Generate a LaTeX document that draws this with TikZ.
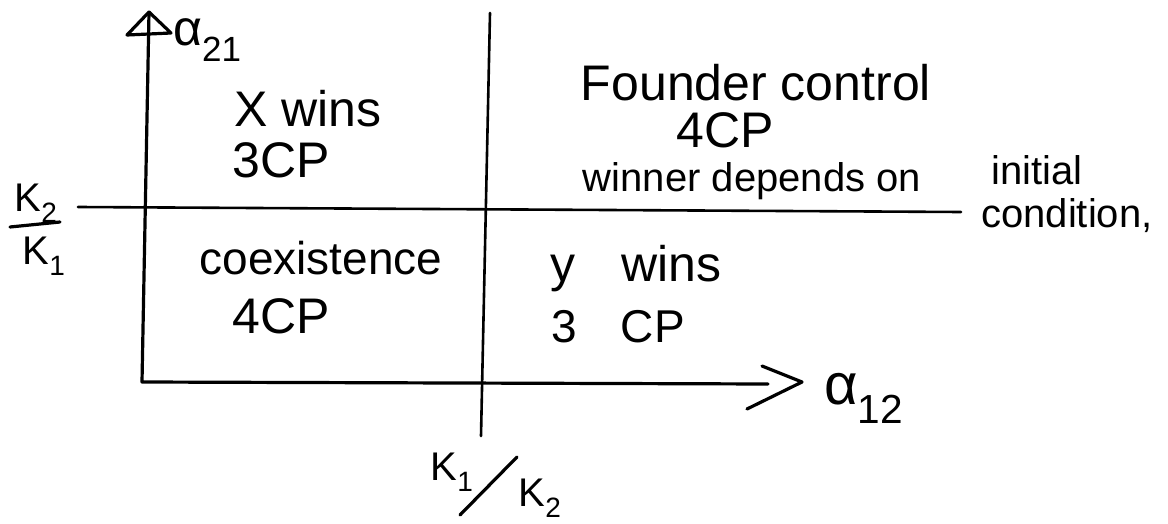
\documentclass[tikz,border=0pt]{standalone}
\usepackage{fontspec}
\setmainfont{Liberation Sans}
\setsansfont{Liberation Sans}
\tikzset{
  pen/.style={line width=3.2pt, line cap=round, line join=round},
  thinpen/.style={line width=2.6pt, line cap=round},
  big/.style={inner sep=0pt, font=\fontsize{50}{58}\selectfont},
  mid/.style={inner sep=0pt, font=\fontsize{46}{54}\selectfont},
  note/.style={inner sep=0pt, font=\fontsize{40}{46}\selectfont},
  klabel/.style={inner sep=0pt, font=\fontsize{40}{46}\selectfont},
}
\begin{document}
\begin{tikzpicture}[x=1pt,y=-1pt]
\useasboundingbox (0,0) rectangle (1168,524);
% axes and dividing lines
\coordinate (ytop) at (149,12);
\coordinate (origin) at (142,382);
\coordinate (xend) at (768,384);
\coordinate (ya) at (127,35);
\coordinate (yb) at (171,33);
\coordinate (xa) at (762,366);
\coordinate (xtip) at (802,382);
\coordinate (xb) at (747,409);
\coordinate (hl) at (78,207);
\coordinate (hr) at (961,212);
\coordinate (vt) at (490,13);
\coordinate (vb) at (481,436);
\draw[pen] (ytop) -- (origin) -- (xend);
\draw[pen] (ya) -- (ytop) -- (yb) -- cycle;
\draw[pen] (xa) -- (xtip) -- (xb);
\draw[thinpen] (hl) -- (hr);
\draw[thinpen] (vt) -- (vb);
% axis labels
\node[big, anchor=base west] (a21) at (173,46) {α\textsubscript{21}};
\node[inner sep=0pt, font=\fontsize{58}{64}\selectfont, anchor=base west] (a12) at (824,404) {α\textsubscript{12}};
% K2/K1 on the left
\node[klabel] (k2l) at (36,203) {K\textsubscript{2}};
\coordinate (barl) at (10,227);
\coordinate (barr) at (60,222);
\draw[pen] (barl) -- (barr);
\node[klabel] (k1l) at (44,256) {K\textsubscript{1}};
% K1/K2 at the bottom
\node[klabel] (k1b) at (452,472) {K\textsubscript{1}};
\coordinate (sl1) at (517,457);
\coordinate (sl2) at (460,515);
\draw[pen] (sl1) -- (sl2);
\node[klabel] (k2b) at (540,498) {K\textsubscript{2}};
% region texts
\node[big] (xw) at (308,109) {X wins};
\node[big] (x3) at (281,160) {3CP};
\node[mid] (co) at (321,258) {coexistence};
\node[big] (c4) at (281,316) {4CP};
\node[big] (fc) at (756,83) {Founder control};
\node[big] (f4) at (725,130) {4CP};
\node[note] (wd) at (752,181) {winner depends on};
\node[note] (ini) at (1037,170) {initial};
\node[note] (cond) at (1067,216) {condition,};
\node[big] (yw) at (636,269) {y\hspace{46pt}wins};
\node[mid] (y3) at (618,327) {3\hspace{44pt}CP};
\end{tikzpicture}
\end{document}
